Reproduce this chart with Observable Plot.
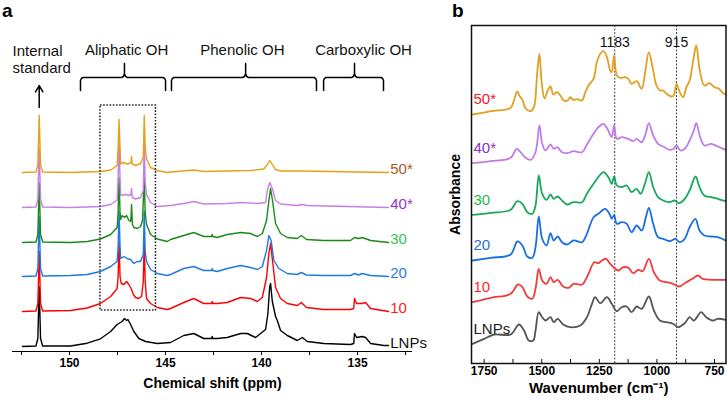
<!DOCTYPE html>
<html><head><meta charset="utf-8">
<script src="https://cdn.jsdelivr.net/npm/d3@7"></script>
<script src="https://cdn.jsdelivr.net/npm/@observablehq/plot@0.6"></script>
<style>
html,body{margin:0;padding:0;background:#fff;}
#wrap{position:relative;width:727px;height:401px;overflow:hidden;font-family:"Liberation Sans",Arial,sans-serif;}
.panel{position:absolute;top:0;}
.tag{position:absolute;font-weight:bold;font-size:19px;line-height:19px;color:#000;}
g[aria-label="x-axis tick label"]{font-weight:bold;}
</style></head><body>
<div id="wrap">
  <div id="pa" class="panel" style="left:0"></div>
  <div id="pb" class="panel" style="left:440px"></div>
  <div class="tag" style="left:2px;top:1px">a</div>
  <div class="tag" style="left:452px;top:1px">b</div>
</div>
<script>
// ---------------- Panel a: 31P NMR (chemical shift ppm, intensity above each trace baseline)
const nmrSeries = ["LNPs", "10", "20", "30", "40*", "50*"];
const nmrOffsets = [5, 40, 75, 109, 144, 179];
const nmrLNPs = [[152.45,0],[151.75,0.5],[151.65,8],[151.58,60],[151.51,8],[151.4,0.5],[149.95,0.5],[149.08,3.3],[148.39,7.7],[147.86,15],[147.52,22],[147.26,25],[147.14,28],[147.03,26],[146.96,27],[146.82,22],[146.65,15],[146.39,8],[146.04,5],[145.43,3],[144.74,4],[144.05,11],[143.53,13],[143.01,8],[142.6,8],[142.57,10],[142.54,8],[142.31,8],[141.79,9],[141.09,13],[140.75,13],[140.31,9],[140.05,13],[139.79,17],[139.67,33],[139.58,59],[139.53,63],[139.44,45],[139.27,30],[139.18,26],[139.01,16],[138.66,11],[138.14,6],[137.88,9],[137.62,5],[136.76,3],[135.37,2],[135.2,3],[135.16,13],[135.05,9],[134.76,10],[134.58,9],[134.32,3],[133.63,1],[133.39,1]];
const nmr10 = [[152.45,0],[151.75,0.5],[151.65,8],[151.58,60],[151.51,8],[151.4,0.5],[149.95,1],[149.08,3.5],[148.39,8],[147.86,15],[147.52,23],[147.47,35],[147.42,70],[147.37,35],[147.31,28],[147.17,27],[147.03,30],[146.91,27],[146.79,23],[146.68,17],[146.56,14],[146.39,13],[146.25,15],[146.16,30],[146.11,70],[146.06,30],[145.99,13],[145.78,8],[145.43,4],[144.91,2],[144.74,3],[144.05,9],[143.53,13],[143.01,8],[142.6,8],[142.57,10],[142.54,8],[142.31,8],[141.79,9],[141.09,14],[140.57,13],[140.22,10],[139.96,14],[139.74,34],[139.62,58],[139.53,68],[139.43,51],[139.27,24],[139.01,13],[138.66,8],[138.14,6],[137.93,9],[137.66,4],[136.76,2],[135.37,2],[135.2,3],[135.16,13],[135.05,8],[134.76,8],[134.58,9],[134.32,3],[133.39,0]];
const nmr20 = [[152.45,0],[151.75,0.5],[151.65,8],[151.58,60],[151.51,8],[151.4,0.5],[149.95,1],[149.08,2],[148.39,5],[147.86,10],[147.52,15],[147.47,30],[147.42,65],[147.37,30],[147.34,18],[147.17,20],[147.0,18],[146.82,17],[146.65,13],[146.47,15],[146.3,15],[146.16,22],[146.11,65],[146.06,25],[145.99,15],[145.78,7],[145.43,3],[144.91,1],[144.74,2],[144.05,8],[143.53,10],[143.01,6],[142.6,6],[142.57,8],[142.54,6],[142.31,5],[141.79,8],[141.09,11],[140.57,9],[140.22,7],[139.96,10],[139.74,26],[139.62,41],[139.5,36],[139.36,16],[139.1,8],[138.66,3],[138.14,2],[137.93,4],[137.66,1.5],[136.76,1],[135.37,1],[135.16,3],[134.95,1.5],[134.76,3],[134.32,1],[133.39,0]];
const nmr30 = [[152.45,0],[151.75,0.5],[151.65,8],[151.58,60],[151.51,8],[151.4,0.5],[149.95,0],[149.08,1],[148.39,3.5],[147.86,8],[147.52,15],[147.47,30],[147.42,65],[147.37,30],[147.34,23],[147.26,27],[147.14,25],[147.03,27],[146.91,22],[146.82,21],[146.8,25],[146.77,38],[146.74,25],[146.72,18],[146.65,15],[146.47,14],[146.3,16],[146.2,22],[146.11,65],[146.06,30],[145.99,18],[145.78,8],[145.43,3.5],[144.91,1],[144.74,3],[144.05,7],[143.53,10],[143.01,6],[142.6,6],[142.57,8],[142.54,6],[142.31,5],[141.79,8],[141.09,10],[140.57,9],[140.22,6],[139.96,9],[139.74,22],[139.62,42],[139.53,54],[139.43,42],[139.27,19],[139.01,9],[138.66,5],[138.14,4],[137.93,7],[137.66,3],[136.76,2],[135.37,2],[135.16,5],[134.95,4],[134.76,5],[134.32,2],[133.39,0]];
const nmr40 = [[152.45,0],[151.75,0.5],[151.65,8],[151.58,60],[151.51,8],[151.4,0.5],[149.95,0],[149.08,0.5],[148.39,1],[147.86,3],[147.52,7.5],[147.47,30],[147.42,65],[147.37,30],[147.34,12],[147.08,13],[146.91,12],[146.8,13],[146.77,19],[146.74,11],[146.72,10],[146.56,8.5],[146.3,10],[146.16,17],[146.11,65],[146.06,25],[145.99,13],[145.78,5],[145.43,1],[144.74,2],[144.05,4],[143.53,6],[143.01,3.5],[141.79,4],[141.09,5],[140.22,4],[139.79,5],[139.7,17],[139.57,25],[139.44,19],[139.27,7],[139.01,3.5],[138.14,2],[137.93,3],[137.62,2],[133.39,0]];
const nmr50 = [[152.45,0],[151.75,0.5],[151.65,8],[151.58,57],[151.51,8],[151.4,0.5],[149.95,0],[148.39,1],[147.86,2.5],[147.52,7],[147.47,25],[147.42,53],[147.37,25],[147.34,8.5],[147.17,10],[147.0,8.5],[146.82,9.5],[146.8,10],[146.77,16],[146.74,9],[146.72,8.5],[146.56,7],[146.3,9],[146.16,15],[146.11,57],[146.06,25],[145.99,13.5],[145.78,5],[145.43,2],[144.91,0],[144.74,0.5],[143.53,2.5],[143.01,1],[140.57,2],[139.88,3.5],[139.7,8],[139.57,12],[139.44,8],[139.27,3],[139.01,1.5],[137.93,1.5],[133.39,0]];
const nmrColors = ["#000000", "#ff0000", "#1f78e0", "#178a17", "#c77fe6", "#e6a118"];
const nmrLabelColors = ["#111111", "#ff1a1a", "#2a7de0", "#33c45a", "#9932cc", "#a9582a"];
const nmrTicks = [132.5, 135, 137.5, 140, 142.5, 145, 147.5, 150, 152.5];
const nmrRegions = ["Aliphatic OH", "Phenolic OH", "Carboxylic OH"];
const regionFrom = [149.43, 144.69, 136.77];
const regionTo = [145.0, 137.14, 133.65];
const regionMid = [147.14, 140.83, 135.16];
const regionLabelAt = [147.03, 141.0, 134.69];
const internalStandard = 151.58;
const zoomBoxPpm = [148.39, 145.5];

// ---------------- Panel b: FTIR (wavenumber cm-1, stacked absorbance)
const ftirSeries = ["LNPs", "10", "20", "30", "40*", "50*"];
const ftirLNPs = [[1800,19.7],[1750,24.7],[1707,29],[1635,29],[1599,39],[1577,33],[1556,23],[1537,23],[1527,33],[1513,51.3],[1498,46.3],[1484,43],[1462,46.3],[1448,41.3],[1431,44.7],[1407,39],[1376,36.3],[1333,38],[1304,46.3],[1282,59.7],[1268,66.3],[1246,60.3],[1217,66.3],[1196,59.7],[1174,52.3],[1153,56.3],[1131,57],[1110,51.3],[1088,57],[1066,54.7],[1035,67],[1013,53],[987,43],[958,41.3],[930,39.7],[908,36.3],[879,40.3],[858,46.3],[840,43],[808,51.3],[786,46.3],[757,43],[736,44.7],[702,43.7]];
const ftir10 = [[1800,61.3],[1721,65.7],[1635,69.7],[1603,79],[1584,76.3],[1563,67],[1541,64.7],[1527,74.7],[1513,94.7],[1498,83],[1479,79.7],[1462,86.3],[1448,81.3],[1431,83.7],[1407,77],[1383,75.7],[1362,79.7],[1325,79],[1297,89.7],[1272,101.3],[1254,100.3],[1239,103],[1220,104.7],[1203,99.7],[1186,95.7],[1167,93],[1146,96.3],[1124,95.7],[1103,90.3],[1081,93.7],[1062,92.3],[1035,104.7],[1013,91.3],[987,83],[958,81.3],[930,79.7],[904,77],[872,81.3],[846,84.7],[822,88],[801,84.7],[764,83.7],[702,83.7]];
const ftir20 = [[1800,103],[1721,105.7],[1635,109],[1606,122],[1584,118],[1563,107],[1541,105.7],[1527,116.3],[1513,147],[1498,124.7],[1479,118],[1462,130.3],[1448,123],[1431,127],[1412,121.3],[1390,119],[1362,123],[1325,121.3],[1304,129.7],[1275,146.3],[1254,149.7],[1225,154.7],[1206,149.7],[1196,144.7],[1186,148.7],[1174,139.7],[1153,141.3],[1131,139.7],[1110,131.3],[1088,138],[1066,133],[1048,146.3],[1035,155.7],[1016,139.7],[995,126.3],[973,124.7],[944,122.3],[920,124.7],[901,121.3],[879,124.7],[858,136.3],[833,144.7],[815,133],[794,128],[764,127],[736,126.3],[702,123]];
const ftir30 = [[1800,148.7],[1721,150.7],[1635,153.7],[1606,162.3],[1584,159.7],[1563,151.3],[1541,149.7],[1527,158],[1513,188],[1498,169.7],[1479,163.7],[1462,169],[1448,164.7],[1431,167],[1412,163],[1390,159],[1362,161.3],[1325,161.3],[1304,169.7],[1275,179.7],[1232,191.3],[1210,186],[1196,179.7],[1186,187],[1174,178],[1153,176.3],[1131,178],[1110,171.3],[1088,174.7],[1071,169.7],[1052,179.7],[1035,191.3],[1016,176.3],[995,166.3],[973,163],[944,161.3],[923,163],[904,160.3],[879,164.7],[858,173],[832,187],[815,176.3],[794,168],[764,166.3],[736,164.7],[702,162.3]];
const ftir40 = [[1800,200.3],[1721,202.3],[1635,205.7],[1609,214.7],[1592,211.3],[1570,205.7],[1548,203.7],[1527,211.3],[1510,238],[1498,219.7],[1484,213],[1462,219],[1448,214.7],[1433,216.3],[1412,211.3],[1390,210.3],[1362,212.3],[1325,211.3],[1304,219],[1275,229.7],[1254,236.3],[1232,239.7],[1215,234.7],[1196,226.3],[1186,238],[1174,224.7],[1153,226.3],[1124,224.7],[1103,222.3],[1088,224.7],[1066,221.3],[1049,229.7],[1035,240.3],[1016,228],[995,219.7],[973,217],[944,213.7],[927,214.7],[915,218],[898,213],[879,214.7],[858,223],[840,233],[829,240.3],[812,226.3],[794,218],[764,219.7],[736,217],[702,213.7]];
const ftir50 = [[1800,249],[1721,252.3],[1635,255.7],[1621,263],[1606,272],[1595,267],[1584,263.7],[1570,255],[1548,252.3],[1534,256.3],[1520,290],[1510,309.7],[1501,283],[1488,265],[1474,273],[1462,277],[1450,269],[1436,271.3],[1422,269],[1405,263],[1387,263],[1376,266.3],[1364,263.7],[1347,264.3],[1325,263],[1311,271.3],[1297,278],[1275,284.7],[1261,301.3],[1246,309.7],[1232,312.3],[1217,306.3],[1203,293],[1196,291.3],[1186,308],[1174,288],[1160,285.7],[1138,286.3],[1124,284.7],[1110,279.7],[1088,282.3],[1066,274.7],[1052,289.7],[1035,311.3],[1019,296.3],[1002,278],[987,273],[973,273],[958,269.7],[937,267],[927,268],[915,279.7],[901,271.3],[886,266.3],[872,276.3],[858,283],[840,306.3],[829,318],[815,294.7],[794,278],[772,280.3],[750,276.3],[731,274.7],[717,271.3],[702,269]];
const ftirColors = ["#555555", "#f03c3c", "#1a6ee0", "#17a85a", "#c07ce6", "#e0a021"];
const ftirLabelColors = ["#222222", "#ff1f1f", "#1f6fe0", "#1fb84a", "#8a2fc4", "#ee1c2e"];
const ftirMarkers = [1183, 915];
const ftirTickLabels = [1750, 1500, 1250, 1000, 750];
const ftirMinorTicks = [750, 875, 1000, 1125, 1250, 1375, 1500, 1625, 1750];

const FONT = '"Liberation Sans", Arial, sans-serif';

// ---------- Panel a
const nmrData = [nmrLNPs, nmr10, nmr20, nmr30, nmr40, nmr50];
const braceRows = nmrRegions.flatMap((name, i) => {
  const a = regionFrom[i], b = regionTo[i], m = regionMid[i];
  const yb = 261, yl = 274, yt = 288;
  return [[a, yb], [a, yl - 3], [a - 0.05, yl - 0.8], [a - 0.13, yl],
          [m + 0.15, yl], [m + 0.05, yl + 1.2], [m, yl + 4], [m, yt],
          [m, yl + 4], [m - 0.05, yl + 1.2], [m - 0.15, yl],
          [b + 0.13, yl], [b + 0.05, yl - 0.8], [b, yl - 3], [b, yb]]
    .map(([x, y]) => ({x, y, name}));
});

const plotA = Plot.plot({
  width: 440, height: 401,
  marginLeft: 12, marginRight: 28, marginTop: 0, marginBottom: 50,
  x: {domain: [152.97, 132.14]},
  y: {domain: [0, 351], axis: null},
  style: {fontFamily: FONT, background: "transparent", overflow: "visible", color: "#000"},
  marks: [
    ...nmrData.map((pts, i) => Plot.line(pts, {
      x: d => d[0], y: d => nmrOffsets[i] + d[1],
      stroke: nmrColors[i], strokeWidth: 1.4, strokeLinejoin: "round"
    })),
    Plot.rect([0], {x1: zoomBoxPpm[0], x2: zoomBoxPpm[1], y1: 41, y2: 246,
      fill: "none", stroke: "#222", strokeWidth: 1.5, strokeDasharray: "1.6,1.6"}),
    ...nmrSeries.map((s, i) => Plot.text([s], {
      x: 133.3, y: nmrOffsets[i] + 3, text: d => d, textAnchor: "start",
      fill: nmrLabelColors[i], fontSize: 15
    })),
    Plot.line(braceRows, {x: "x", y: "y", z: "name", stroke: "#000", strokeWidth: 1.5}),
    Plot.text(nmrRegions, {x: (d, i) => regionLabelAt[i], y: 301, text: d => d, fontSize: 15, fill: "#111"}),
    Plot.text(["Internal\nstandard"], {frameAnchor: "left", y: 292.5, text: d => d,
      textAnchor: "start", fontSize: 15, lineHeight: 1.13, fill: "#111"}),
    Plot.arrow([0], {x1: internalStandard, x2: internalStandard, y1: 244, y2: 266,
      stroke: "#000", strokeWidth: 1.5, headLength: 8}),
    Plot.ruleY([0], {stroke: "#000", strokeWidth: 1.2}),
    Plot.axisX(nmrTicks, {tickSize: 4, tickPadding: 3, label: null,
      tickFormat: d => d % 5 === 0 ? String(d) : "", fontSize: 12, fontWeight: "bold"}),
    Plot.text(["Chemical shift (ppm)"], {frameAnchor: "bottom", dy: 36, text: d => d,
      fontSize: 14, fontWeight: "bold"})
  ]
});
document.getElementById("pa").appendChild(plotA);

// ---------- Panel b
const ftirData = [ftirLNPs, ftir10, ftir20, ftir30, ftir40, ftir50];
const plotB = Plot.plot({
  width: 287, height: 401,
  marginLeft: 31, marginRight: 1.5, marginTop: 25, marginBottom: 38,
  x: {domain: [1805, 700]},
  y: {domain: [0, 338], axis: null},
  style: {fontFamily: FONT, background: "transparent", overflow: "visible", color: "#000"},
  marks: [
    Plot.ruleX(ftirMarkers, {stroke: "#444", strokeWidth: 1, strokeDasharray: "2,1.5"}),
    ...ftirData.map((pts, i) => Plot.line(pts, {
      x: d => d[0], y: d => d[1], curve: "catmull-rom",
      stroke: ftirColors[i], strokeWidth: 1.8, strokeLinejoin: "round"
    })),
    ...ftirSeries.map((s, i) => Plot.text([s], {
      frameAnchor: "left", dx: 2, y: ftirData[i][0][1] + 15, text: d => d,
      textAnchor: "start", fill: ftirLabelColors[i], fontSize: 15
    })),
    Plot.text(ftirMarkers, {x: d => d, frameAnchor: "top", dy: 12, text: d => String(d), fontSize: 14, fill: "#111"}),
    Plot.frame({stroke: "#111", strokeWidth: 1.5}),
    Plot.tickX(ftirMinorTicks, {x: d => d, insetTop: 334, stroke: "#111"}),
    Plot.axisX(ftirTickLabels, {tickSize: 0, tickPadding: 3, label: null,
      tickFormat: d => String(d), fontSize: 12, fontWeight: "bold"}),
    Plot.text(["Wavenumber (cm⁻¹)"], {frameAnchor: "bottom", dy: 29, text: d => d, fontSize: 15, fontWeight: "bold"}),
    Plot.text(["Absorbance"], {frameAnchor: "left", dx: -16, rotate: -90, textAnchor: "middle",
      text: d => d, fontSize: 14, fontWeight: "bold"})
  ]
});
document.getElementById("pb").appendChild(plotB);
</script>
</body></html>
